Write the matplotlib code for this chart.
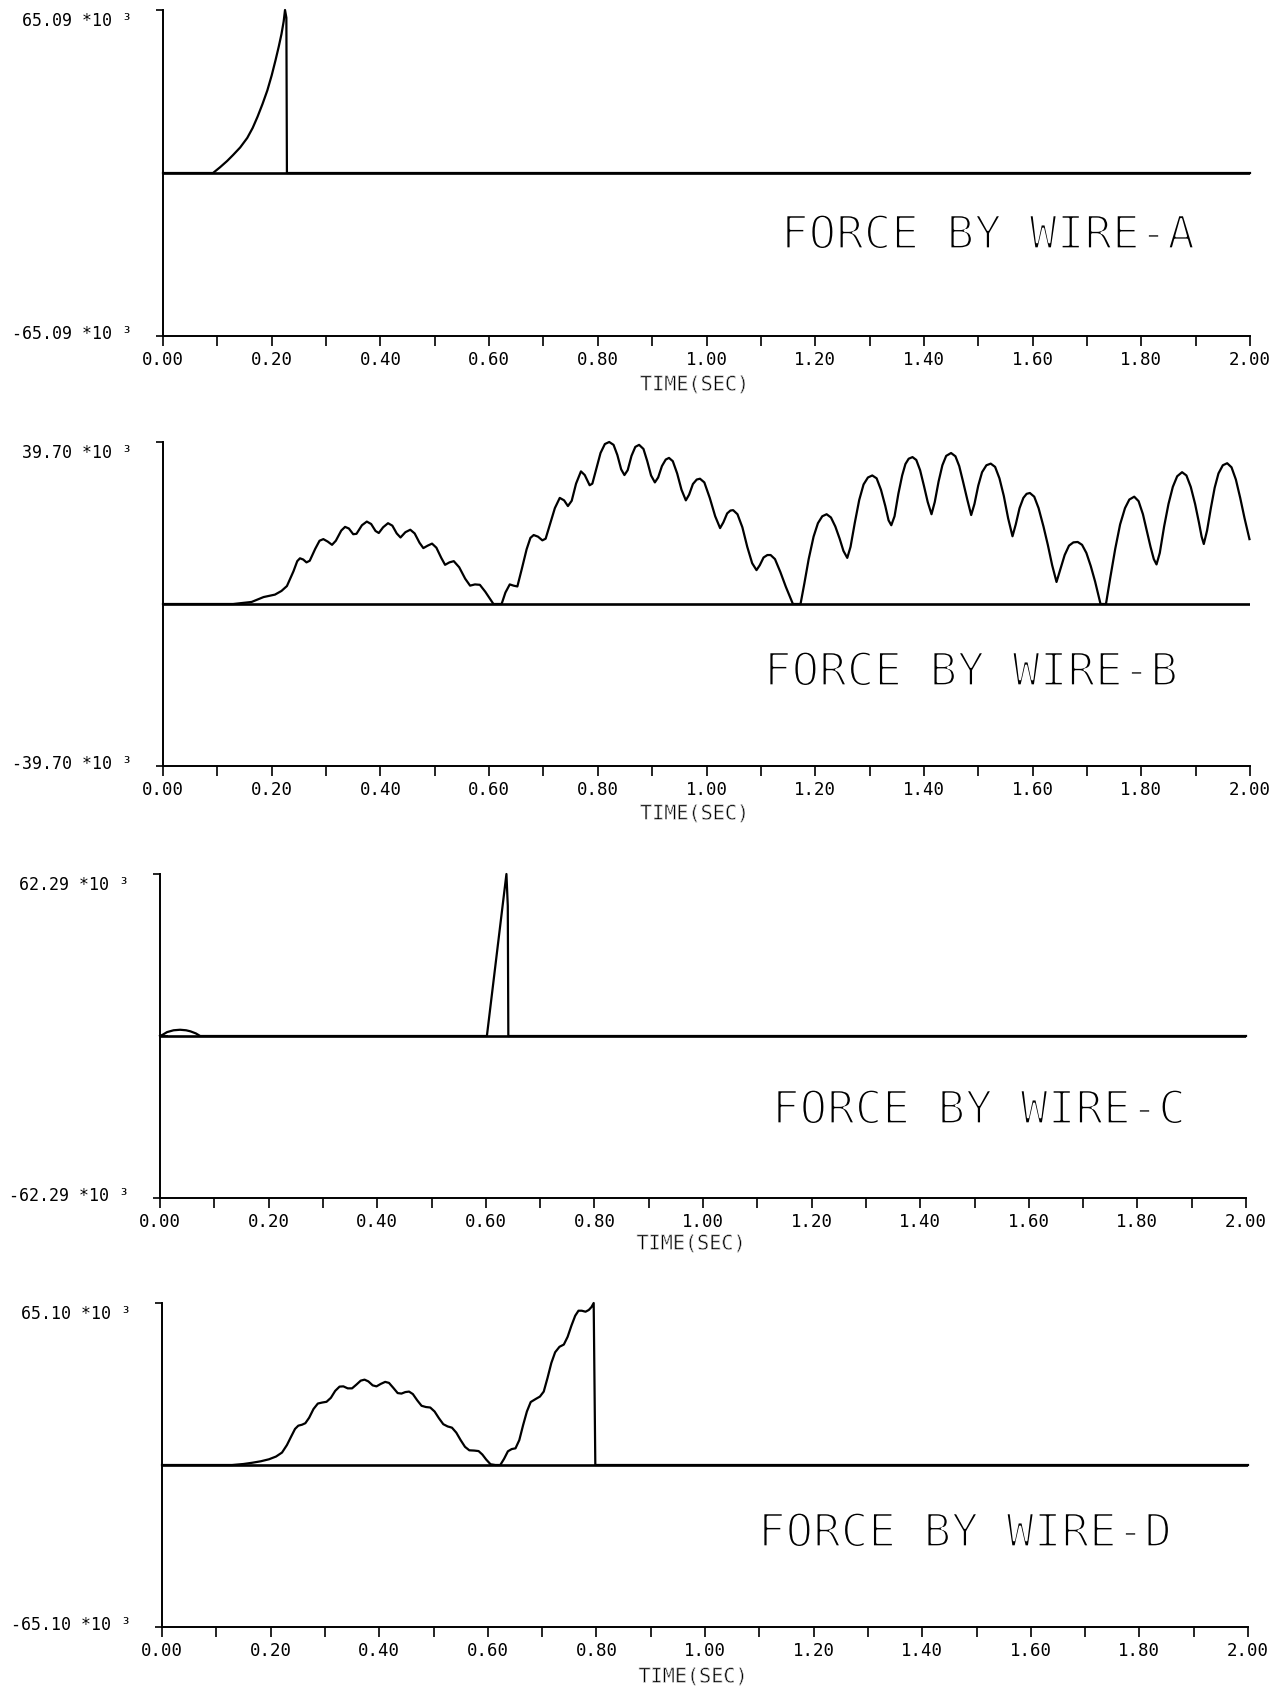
import matplotlib
matplotlib.use('Agg')
import matplotlib.pyplot as plt
import matplotlib.patheffects as pe
from matplotlib.ticker import MultipleLocator, FixedLocator

plt.rcParams['font.family'] = ['DejaVu Sans Mono', 'DejaVu Sans']

# ---------------- data (time in s, force in 10^3 units) ----------------
A_t = [0.0, 0.092, 0.105, 0.118, 0.129, 0.142, 0.155, 0.165, 0.174, 0.183, 0.192,
       0.200, 0.207, 0.213, 0.218, 0.222, 0.2245, 0.227, 0.228, 2.0]
A_v = [0, 0, 2.3, 4.8, 7.2, 10.2, 14.0, 18.0, 22.5, 27.5, 33.0,
       39.0, 45.0, 50.5, 55.5, 60.5, 65.09, 62.0, 0, 0]

B_t = [0.0, 0.129, 0.163, 0.185, 0.206, 0.218, 0.228, 0.240, 0.247, 0.252, 0.258,
       0.264, 0.270, 0.280, 0.288, 0.295, 0.303, 0.311, 0.318, 0.328, 0.335, 0.342,
       0.350, 0.356, 0.366, 0.375, 0.383, 0.391, 0.397, 0.405, 0.414, 0.422, 0.430,
       0.437, 0.446, 0.455, 0.463, 0.472, 0.479, 0.487, 0.495, 0.503, 0.512, 0.519,
       0.527, 0.535, 0.545, 0.556, 0.565, 0.574, 0.583, 0.593, 0.601, 0.608, 0.623,
       0.630, 0.638, 0.645, 0.652, 0.660, 0.669, 0.676, 0.682, 0.690, 0.698, 0.704,
       0.712, 0.721, 0.730, 0.738, 0.745, 0.752, 0.760, 0.769, 0.776, 0.785, 0.790,
       0.797, 0.805, 0.813, 0.821, 0.829, 0.836, 0.843, 0.849, 0.855, 0.862, 0.869,
       0.876, 0.884, 0.891, 0.898, 0.905, 0.911, 0.918, 0.925, 0.931, 0.938, 0.946,
       0.954, 0.962, 0.968, 0.975, 0.982, 0.988, 0.996, 1.006, 1.016, 1.025, 1.031,
       1.038, 1.044, 1.049, 1.057, 1.066, 1.075, 1.084, 1.092, 1.098, 1.105, 1.112,
       1.118, 1.126, 1.136, 1.146, 1.159, 1.173, 1.180, 1.188, 1.197, 1.205, 1.213,
       1.221, 1.229, 1.237, 1.245, 1.252, 1.259, 1.265, 1.273, 1.281, 1.289, 1.297,
       1.305, 1.313, 1.321, 1.329, 1.335, 1.340, 1.346, 1.353, 1.360, 1.366, 1.372,
       1.379, 1.386, 1.393, 1.400, 1.407, 1.414, 1.420, 1.427, 1.434, 1.441, 1.450,
       1.458, 1.465, 1.472, 1.480, 1.487, 1.493, 1.500, 1.507, 1.515, 1.523, 1.531,
       1.539, 1.547, 1.555, 1.563, 1.569, 1.576, 1.583, 1.589, 1.595, 1.603, 1.611,
       1.620, 1.628, 1.636, 1.644, 1.651, 1.659, 1.667, 1.675, 1.683, 1.691, 1.699,
       1.707, 1.715, 1.725, 1.735, 1.743, 1.752, 1.761, 1.770, 1.778, 1.787, 1.795,
       1.803, 1.810, 1.817, 1.823, 1.828, 1.834, 1.842, 1.850, 1.858, 1.866, 1.875,
       1.883, 1.891, 1.899, 1.906, 1.911, 1.915, 1.921, 1.928, 1.935, 1.942, 1.950,
       1.958, 1.966, 1.974, 1.982, 1.990, 1.999]
B_v = [0, 0, 0.5, 1.7, 2.3, 3.2, 4.4, 8.0, 10.5, 11.2, 10.9,
       10.2, 10.6, 13.5, 15.5, 15.9, 15.3, 14.5, 15.5, 18.0, 18.9, 18.5,
       17.1, 17.2, 19.3, 20.2, 19.6, 17.9, 17.4, 18.8, 19.8, 19.2, 17.3,
       16.3, 17.6, 18.2, 17.3, 15.0, 13.7, 14.3, 14.8, 13.8, 11.3, 9.6,
       10.2, 10.5, 9.0, 6.2, 4.5, 4.8, 4.7, 3.0, 1.4, 0, 0,
       2.8, 4.8, 4.5, 4.3, 8.5, 13.4, 16.2, 16.9, 16.5, 15.6, 16.0,
       19.5, 23.5, 26.0, 25.4, 24.0, 25.3, 29.5, 32.5, 31.6, 29.1, 29.5,
       33.0, 37.0, 39.2, 39.7, 39.0, 36.5, 33.0, 31.6, 32.8, 36.3, 38.5,
       39.0, 38.0, 35.0, 31.5, 29.8, 31.0, 33.8, 35.4, 35.8, 35.0, 32.0,
       28.0, 25.4, 26.8, 29.4, 30.5, 30.7, 29.8, 26.0, 21.5, 18.6, 20.0,
       22.2, 22.9, 23.0, 22.0, 18.8, 14.0, 10.0, 8.3, 9.5, 11.4, 12.0,
       12.0, 11.0, 7.8, 4.2, 0, 0, 5.0, 11.0, 16.5, 19.8, 21.5,
       22.0, 21.2, 19.0, 16.0, 13.0, 11.3, 14.0, 20.0, 25.5, 29.3, 31.0,
       31.5, 30.8, 28.0, 24.0, 20.5, 19.3, 21.5, 27.0, 31.5, 34.3, 35.6,
       36.0, 35.3, 32.8, 29.0, 25.0, 22.0, 25.0, 30.0, 34.0, 36.3, 37.0,
       36.2, 33.8, 30.0, 25.5, 21.8, 24.5, 29.0, 32.3, 34.0, 34.4, 33.6,
       30.8, 26.5, 21.0, 16.6, 19.5, 23.5, 26.0, 27.0, 27.2, 26.3, 23.5,
       19.0, 14.5, 9.5, 5.4, 8.5, 12.0, 14.3, 15.1, 15.2, 14.5, 12.5,
       9.3, 5.5, 0, 0, 6.5, 13.5, 19.5, 23.5, 25.6, 26.3, 25.2,
       22.0, 18.0, 14.0, 11.0, 9.7, 12.5, 19.0, 24.5, 28.7, 31.3, 32.3,
       31.5, 28.7, 24.5, 20.0, 16.5, 14.7, 18.0, 23.5, 28.5, 32.0, 34.0,
       34.5, 33.5, 30.5, 26.0, 21.0, 15.9]

C_t = [0.0, 0.005, 0.013, 0.025, 0.037, 0.048, 0.056, 0.066, 0.074, 0.602, 0.638, 0.6405, 0.6415, 2.0]
C_v = [0, 0.5, 1.5, 2.2, 2.4, 2.2, 1.8, 1.0, 0, 0, 62.29, 50.0, 0, 0]

D_t = [0.0, 0.129, 0.150, 0.166, 0.182, 0.197, 0.210, 0.221, 0.230, 0.238, 0.245,
       0.251, 0.258, 0.264, 0.271, 0.279, 0.287, 0.295, 0.303, 0.311, 0.319, 0.327,
       0.334, 0.342, 0.350, 0.358, 0.366, 0.373, 0.380, 0.388, 0.395, 0.403, 0.411,
       0.418, 0.426, 0.434, 0.441, 0.448, 0.455, 0.462, 0.470, 0.478, 0.486, 0.494,
       0.502, 0.510, 0.518, 0.526, 0.534, 0.542, 0.550, 0.558, 0.566, 0.575, 0.583,
       0.590, 0.597, 0.605, 0.614, 0.623, 0.630, 0.637, 0.644, 0.651, 0.658, 0.665,
       0.672, 0.679, 0.688, 0.696, 0.703, 0.710, 0.717, 0.724, 0.732, 0.740, 0.747,
       0.754, 0.761, 0.767, 0.773, 0.780, 0.786, 0.791, 0.795, 0.798, 2.0]
D_v = [0, 0, 0.4, 0.9, 1.5, 2.3, 3.4, 5.0, 8.0, 11.5, 14.5,
       15.8, 16.2, 16.8, 19.0, 22.5, 24.7, 25.1, 25.4, 27.0, 29.8, 31.5,
       31.6, 30.8, 30.8, 32.3, 33.9, 34.3, 33.6, 32.0, 31.6, 32.6, 33.4,
       33.0, 31.0, 28.9, 28.7, 29.3, 29.5, 28.5, 26.0, 23.8, 23.3, 23.1,
       21.5, 18.8, 16.4, 15.5, 15.0, 13.0, 10.0, 7.3, 5.9, 5.8, 5.6,
       4.2, 2.2, 0.3, 0, 0, 2.5, 5.5, 6.4, 6.7, 10.0, 16.0,
       21.5, 25.3, 26.5, 27.5, 29.5, 35.0, 41.0, 45.3, 47.5, 48.4, 51.5,
       56.0, 60.0, 62.0, 62.0, 61.6, 62.3, 63.5, 65.1, 0, 0]

y_max = [65.09, 39.70, 62.29, 65.10]
titles = ['FORCE BY WIRE-A', 'FORCE BY WIRE-B', 'FORCE BY WIRE-C', 'FORCE BY WIRE-D']
x_ticks = [0.0, 0.2, 0.4, 0.6, 0.8, 1.0, 1.2, 1.4, 1.6, 1.8, 2.0]
x_label = 'TIME(SEC)'
series = [(A_t, A_v), (B_t, B_v), (C_t, C_v), (D_t, D_v)]

# ---------------- layout (pixels) ----------------
W, H = 1273, 1690
boxes = [(163, 11, 1250, 337), (163, 443, 1250, 767), (160, 875, 1246, 1199), (162, 1304, 1248, 1628)]
title_pos = [(781, 237), (764, 674), (772, 1112), (758, 1535)]
xlabel_off = [49, 48, 46, 50]

fig = plt.figure(figsize=(W / 100, H / 100), dpi=100)

for (t, v), ym, title, (l, tp, r, b), (tx, ty), xo in zip(series, y_max, titles, boxes,
                                                          title_pos, xlabel_off):
    ax = fig.add_axes([l / W, 1 - b / H, (r - l) / W, (b - tp) / H])
    ax.axhline(0, color='black', lw=1.9, zorder=2)
    ax.plot(t, v, color='black', lw=1.6, clip_on=False, zorder=3,
            solid_joinstyle='round')
    ax.set_xlim(0, 2.0)
    ax.set_ylim(-ym, ym)
    for s in ('top', 'right'):
        ax.spines[s].set_visible(False)
    for s in ('left', 'bottom'):
        ax.spines[s].set_linewidth(1.4)
    ax.set_xticks(x_ticks)
    ax.set_xticklabels([f'{x:.2f}' for x in x_ticks])
    ax.xaxis.set_minor_locator(MultipleLocator(0.1))
    ax.tick_params(axis='x', which='both', direction='out', length=7, width=1.2,
                   pad=3, labelsize=12.5)
    ax.set_yticks([0])
    ax.set_yticklabels([])
    ax.yaxis.set_minor_locator(FixedLocator([-ym, ym]))
    ax.tick_params(axis='y', which='major', direction='in', length=6, width=1.2)
    ax.tick_params(axis='y', which='minor', direction='out', length=5, width=1.2)

    ax.annotate(x_label, xy=(0.489, 0), xycoords='axes fraction',
                xytext=(0, -xo), textcoords='offset pixels',
                ha='center', va='center', fontsize=14.5,
                path_effects=[pe.Normal(), pe.Stroke(linewidth=0.5, foreground='white')])

    ax.annotate(f'{ym:.2f} *10 ³', xy=(0, 1), xycoords='axes fraction',
                xytext=(-31, -10), textcoords='offset pixels',
                ha='right', va='center', fontsize=12)
    ax.annotate(f'-{ym:.2f} *10 ³', xy=(0, 0), xycoords='axes fraction',
                xytext=(-31, 3), textcoords='offset pixels',
                ha='right', va='center', fontsize=12)

    fig.text(tx / W, 1 - ty / H, title, fontsize=33, ha='left', va='center',
             path_effects=[pe.Normal(), pe.Stroke(linewidth=1.7, foreground='white')])

fig.savefig('out.png', dpi=100, facecolor='white')
